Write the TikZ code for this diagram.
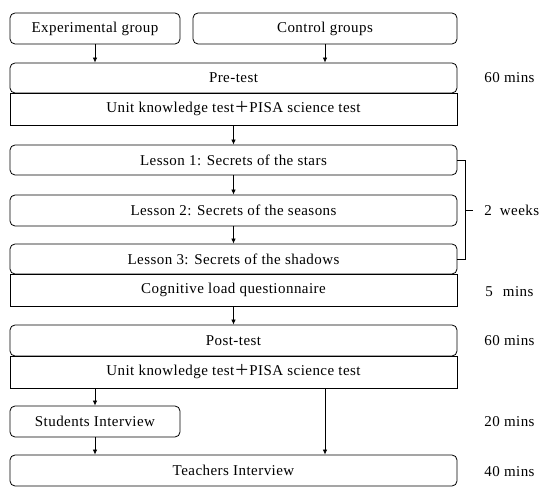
\documentclass[tikz,border=0pt]{standalone}
\usepackage{fontspec}
\setmainfont[LetterSpace=3]{Liberation Serif}
\newfontfamily\cjk{Noto Sans CJK SC}
\usetikzlibrary{arrows.meta}

\begin{document}
\begin{tikzpicture}[x=1pt, y=-1pt, line width=0.8pt,
  font=\fontsize{15}{18}\selectfont,
  box/.style = {draw, fill=white, rounded corners=5pt, minimum width=447pt, minimum height=31pt, inner sep=0pt},
  half/.style = {draw, fill=white, minimum width=170pt, minimum height=31pt, rounded corners=5pt, inner sep=0pt},
  sub/.style = {draw, minimum width=447pt, minimum height=32pt, inner sep=0pt},
  note/.style = {anchor=west, inner sep=0pt},
  arr/.style = {-{Latex[length=5pt, width=4.5pt]}}]
\useasboundingbox (0,0) rectangle (550,497);
\node[half] (exp) at (95,28.5) {Experimental group};
\node[half, minimum width=264pt] (ctrl) at (325,28.5) {Control groups};
\node[sub] (pretests) at (233.5,109) {Unit knowledge test{\cjk ＋}PISA science test};
\node[box, minimum height=30pt] (pre) at (233.5,78) {Pre-test};
\node[box, minimum height=30pt] (l1) at (233.5,160) {Lesson 1: Secrets of the stars};
\node[box] (l2) at (233.5,210.5) {Lesson 2: Secrets of the seasons};
\node[sub] (cog) at (233.5,290) {Cognitive load questionnaire};
\node[box, minimum height=30pt] (l3) at (233.5,259) {Lesson 3: Secrets of the shadows};
\node[sub] (posttests) at (233.5,372) {Unit knowledge test{\cjk ＋}PISA science test};
\node[box] (post) at (233.5,340.5) {Post-test};
\node[half] (stu) at (95,421.5) {Students Interview};
\node[box] (tea) at (233.5,470.5) {Teachers Interview};
\node[note] (t1) at (484,78) {60 mins};
\node[note] (weeks) at (484,210) {2\hspace{8pt}weeks};
\node[note] (t2) at (485,292) {5\hspace{10pt}mins};
\node[note] (t3) at (484,341) {60 mins};
\node[note] (t4) at (484,422) {20 mins};
\node[note] (t5) at (484,472) {40 mins};
\draw[arr] (exp.south) -- (exp.south |- pre.north);
\draw[arr] (ctrl.south) -- (ctrl.south |- pre.north);
\draw[arr] (pretests.south) -- (l1.north);
\draw[arr] (l1.south) -- (l2.north);
\draw[arr] (l2.south) -- (l3.north);
\draw[arr] (cog.south) -- (post.north);
\draw[arr] (stu.north |- posttests.south) -- (stu.north);
\draw[arr] (stu.south) -- (stu.south |- tea.north);
\draw[arr] (ctrl.south |- posttests.south) -- (ctrl.south |- tea.north);
\draw[line width=0.6pt] (l1.east) -- ++(8,0) coordinate (brk) |- (l3.east);
\draw[line width=0.6pt] (brk |- weeks.west) -- ++(8,0);
\end{tikzpicture}
\end{document}
